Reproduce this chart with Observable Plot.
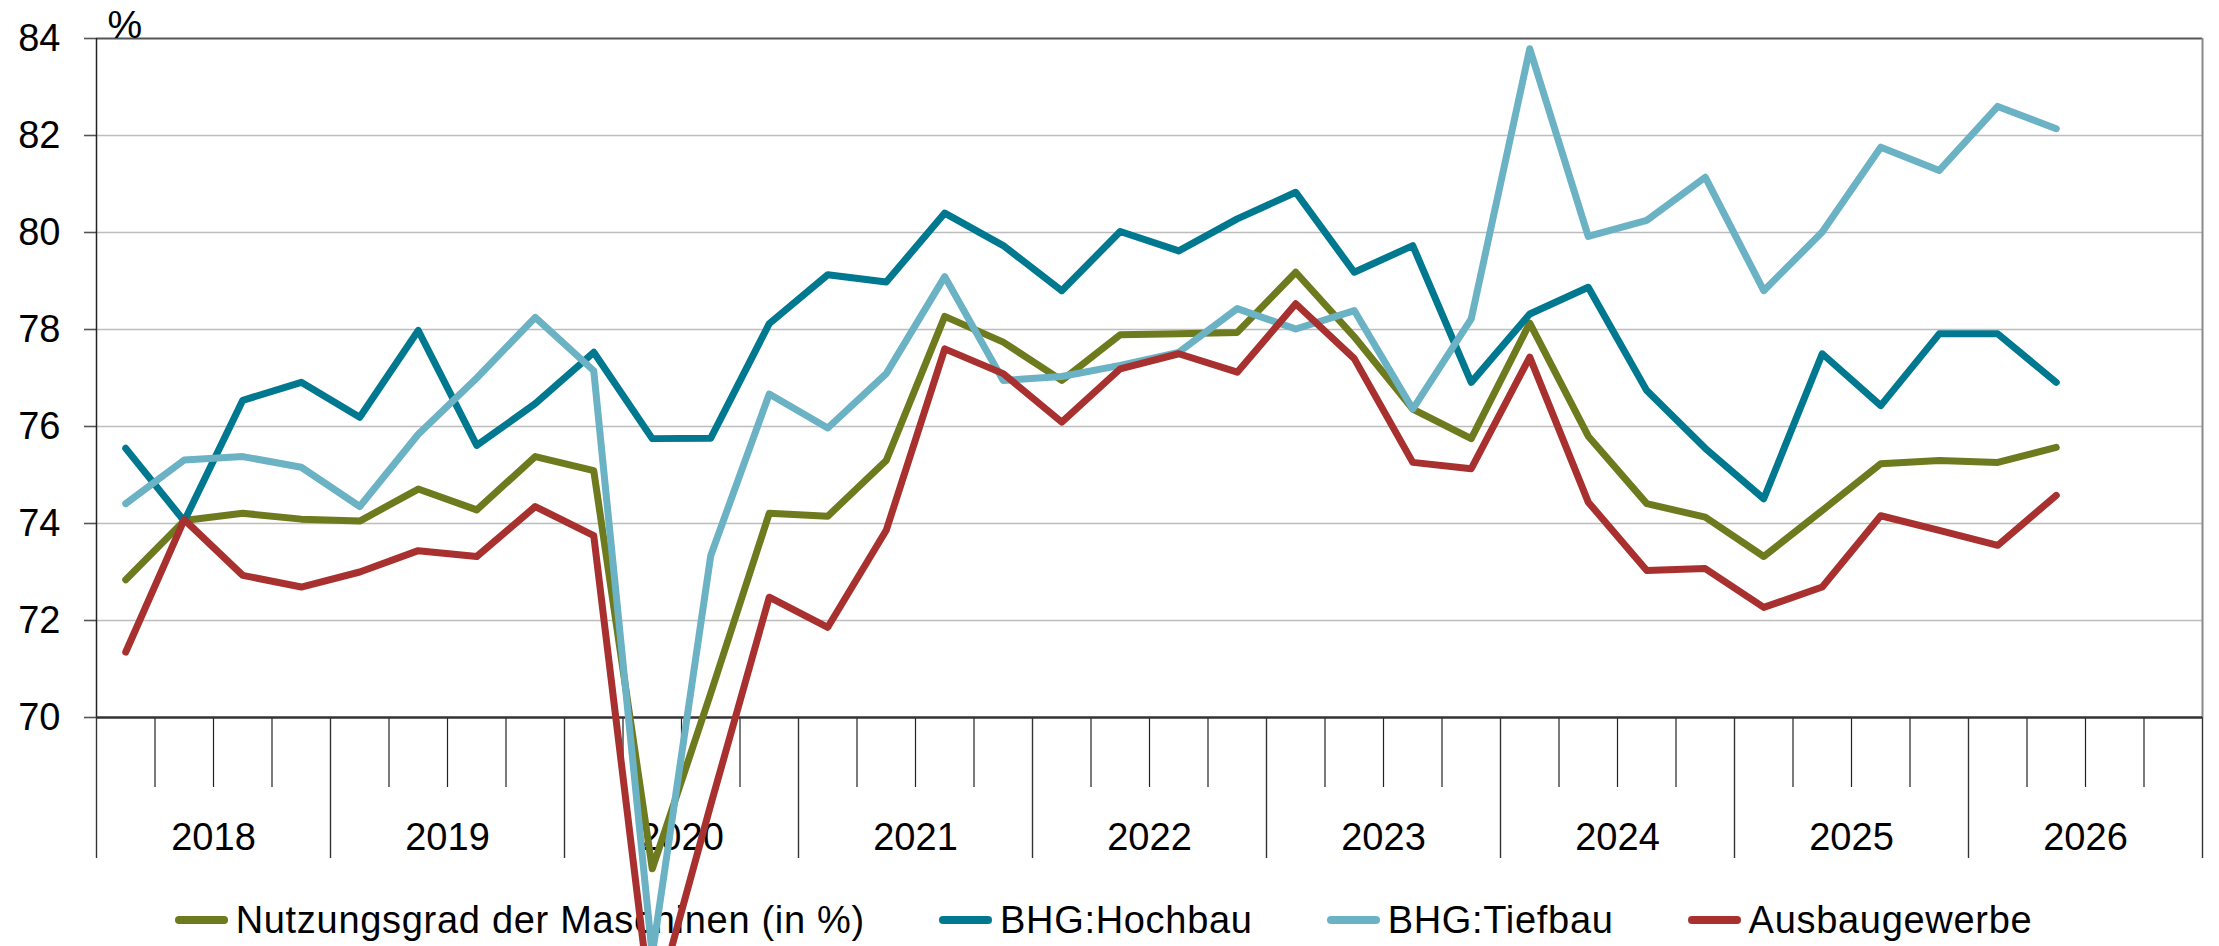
<!DOCTYPE html>
<html>
<head>
<meta charset="utf-8">
<script src="https://cdn.jsdelivr.net/npm/d3@7"></script>
<script src="https://cdn.jsdelivr.net/npm/@observablehq/plot@0.6"></script>
<style>
  html, body { margin: 0; padding: 0; background: #fff; overflow: hidden; }
  body { width: 2219px; height: 946px; font-family: "Liberation Sans", Arial, sans-serif; }
  #chart { position: relative; z-index: 2; width: 2219px; height: 880px; }
  #chart svg { overflow: visible; }
  #legend { position: relative; z-index: 1; width: 2207px; height: 80px; display: flex; justify-content: center; align-items: center; gap: 74px; font-size: 38px; letter-spacing: 0.7px; color: #000; }
  .item { display: flex; align-items: center; }
  .sw { display: inline-block; width: 53px; height: 8px; border-radius: 4px; margin-right: 8px; }
</style>
</head>
<body>
<div id="chart"></div>
<div id="legend"></div>
<script>
// ---- data ----
const quarters = [
  "2018Q1","2018Q2","2018Q3","2018Q4",
  "2019Q1","2019Q2","2019Q3","2019Q4",
  "2020Q1","2020Q2","2020Q3","2020Q4",
  "2021Q1","2021Q2","2021Q3","2021Q4",
  "2022Q1","2022Q2","2022Q3","2022Q4",
  "2023Q1","2023Q2","2023Q3","2023Q4",
  "2024Q1","2024Q2","2024Q3","2024Q4",
  "2025Q1","2025Q2","2025Q3","2025Q4",
  "2026Q1","2026Q2"
];
const seriesNames = ["Nutzungsgrad der Maschinen (in %)", "BHG:Hochbau", "BHG:Tiefbau", "Ausbaugewerbe"];
const seriesColors = ["#6E7A1E", "#00788F", "#6AB2C4", "#A8312F"];

const nutzungsgrad = [72.84, 74.06, 74.21, 74.09, 74.05, 74.71, 74.28, 75.38, 75.09, 66.88, 70.5, 74.21,
  74.15, 75.3, 78.27, 77.74, 76.95, 77.89, 77.91, 77.94, 79.18, 77.85, 76.36, 75.75,
  78.13, 75.8, 74.41, 74.13, 73.32, 74.27, 75.23, 75.3, 75.26, 75.57];
const hochbau = [75.55, 74.05, 76.54, 76.91, 76.19, 77.98, 75.61, 76.47, 77.53, 75.75, 75.76, 78.12,
  79.13, 78.98, 80.4, 79.73, 78.8, 80.02, 79.62, 80.28, 80.83, 79.18, 79.73, 76.91,
  78.32, 78.87, 76.74, 75.55, 74.51, 77.5, 76.43, 77.91, 77.91, 76.91];
const tiefbau = [74.41, 75.31, 75.38, 75.16, 74.35, 75.84, 77.0, 78.25, 77.15, 65.1, 73.34, 76.67,
  75.97, 77.09, 79.09, 76.95, 77.03, 77.26, 77.53, 78.43, 78.01, 78.39, 76.36, 78.22,
  83.79, 79.92, 80.25, 81.14, 78.8, 80.01, 81.76, 81.28, 82.6, 82.14];
const ausbau = [71.35, 74.08, 72.93, 72.69, 73.0, 73.44, 73.32, 74.35, 73.75, 63.8, 68.2, 72.48,
  71.86, 73.86, 77.6, 77.09, 76.09, 77.19, 77.5, 77.12, 78.53, 77.4, 75.26, 75.13,
  77.43, 74.44, 73.03, 73.07, 72.27, 72.69, 74.16, 73.86, 73.55, 74.58];

const yearLabels = ["2018","2019","2020","2021","2022","2023","2024","2025","2026"];
const yTicks = [70, 72, 74, 76, 78, 80, 82, 84];
const yUnit = "%";

// ---- derived tables ----
const qx = s => +s.slice(0, 4) + (+s.slice(5) - 0.5) / 4;
const seriesValues = [nutzungsgrad, hochbau, tiefbau, ausbau];
const rows = [];
seriesNames.forEach((name, si) => {
  seriesValues[si].forEach((v, i) => rows.push({series: name, x: qx(quarters[i]), value: v}));
});
const firstYear = +yearLabels[0];
const lastYear = +yearLabels[yearLabels.length - 1] + 1;
const yearEdges = d3.range(firstYear, lastYear + 1);
const quarterEdges = d3.range(firstYear * 4, lastYear * 4 + 1).map(q => q / 4).filter(q => q % 1 !== 0);
const yearCenters = yearLabels.map(y => +y + 0.5);

const plot = Plot.plot({
  width: 2219,
  height: 880,
  marginLeft: 96,
  marginRight: 17,
  marginTop: 38,
  marginBottom: 163,
  style: {fontFamily: "'Liberation Sans', Arial, sans-serif", fontSize: "38px", color: "#000", background: "transparent", overflow: "visible"},
  x: {domain: [firstYear, lastYear]},
  y: {domain: [yTicks[0], yTicks[yTicks.length - 1]]},
  color: {domain: seriesNames, range: seriesColors},
  marks: [
    Plot.gridY(yTicks.slice(1, -1), {stroke: "#bdbdbd", strokeOpacity: 1, strokeWidth: 1.6}),
    Plot.axisY({ticks: yTicks, tickSize: 12, tickPadding: 24, stroke: "#555", strokeWidth: 1.6, fontSize: 38, tickFormat: d => String(d), label: null}),
    Plot.ruleY([yTicks[yTicks.length - 1]], {stroke: "#555", strokeWidth: 2.2}),
    Plot.ruleX([firstYear], {stroke: "#222", strokeWidth: 1.5}),
    Plot.ruleX([lastYear], {stroke: "#8a8a8a", strokeWidth: 2}),
    Plot.axisX({ticks: quarterEdges, tickSize: 70, stroke: "#222", strokeWidth: 1.2, tickFormat: () => "", label: null}),
    Plot.axisX({ticks: yearEdges, tickSize: 141, stroke: "#333", strokeWidth: 1.4, tickFormat: () => "", label: null}),
    Plot.axisX({ticks: yearCenters, tickSize: 0, tickPadding: 106, fontSize: 38, tickFormat: (d, i) => yearLabels[i], label: null, style: {letterSpacing: "0.7px"}}),
    Plot.ruleY([yTicks[0]], {stroke: "#333", strokeWidth: 2.6}),
    Plot.text([yUnit], {frameAnchor: "top-left", dx: 11, dy: -1, textAnchor: "start", lineAnchor: "bottom", fontSize: 39}),
    Plot.line(rows, {x: "x", y: "value", z: "series", stroke: "series", strokeWidth: 7, strokeLinejoin: "round", strokeLinecap: "round"})
  ]
});
document.getElementById("chart").appendChild(plot);

// ---- legend ----
const legend = document.getElementById("legend");
seriesNames.forEach((name, i) => {
  const item = document.createElement("div");
  item.className = "item";
  const sw = document.createElement("span");
  sw.className = "sw";
  sw.style.background = seriesColors[i];
  const t = document.createElement("span");
  t.textContent = name;
  item.appendChild(sw);
  item.appendChild(t);
  legend.appendChild(item);
});
</script>
</body>
</html>
